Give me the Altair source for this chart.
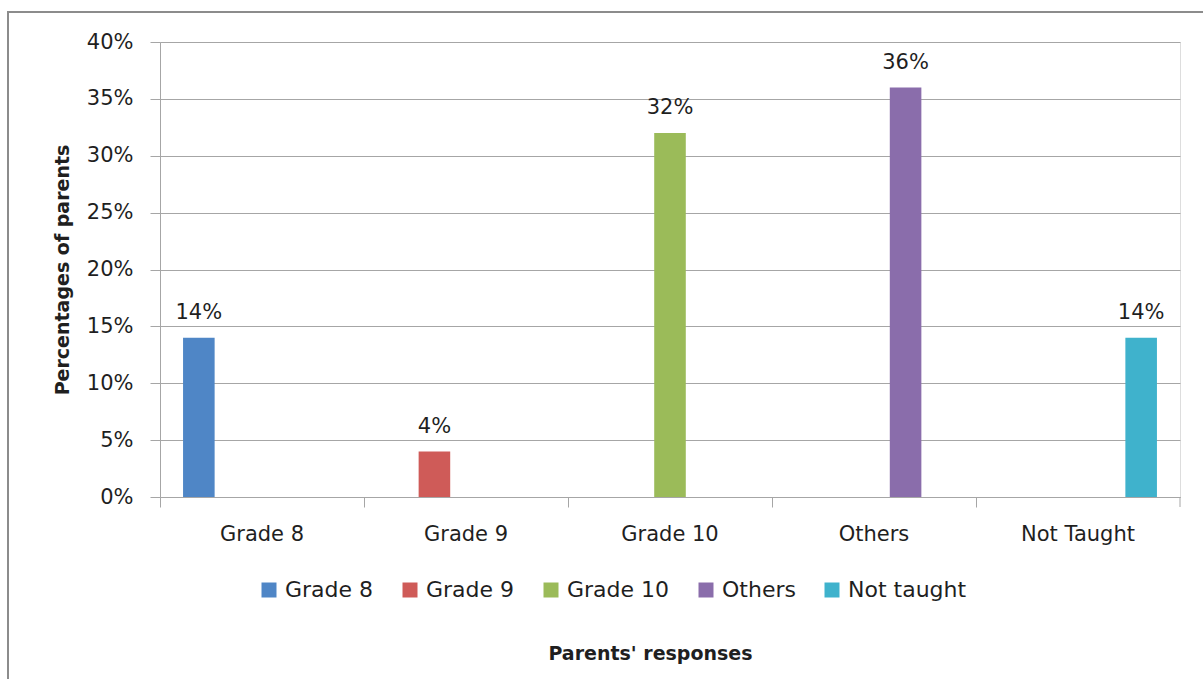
import altair as alt
import pandas as pd

categories = ["Grade 8", "Grade 9", "Grade 10", "Others", "Not Taught"]
series = ["Grade 8", "Grade 9", "Grade 10", "Others", "Not taught"]
values = [0.14, 0.04, 0.32, 0.36, 0.14]
labels = ["14%", "4%", "32%", "36%", "14%"]
colors = ["#4F86C6", "#CF5B58", "#9BBB59", "#8A6DAB", "#3FB2CC"]
y_ticks = [0, 0.05, 0.10, 0.15, 0.20, 0.25, 0.30, 0.35, 0.40]

df = pd.DataFrame({"category": categories, "series": series,
                   "value": values, "label": labels})

FONT = "DejaVu Sans"
TXT = "#1f1f1f"
GRID = "#A6A6A6"
W, H = 1020, 455

x_enc = alt.X("category:N", sort=categories,
              scale=alt.Scale(paddingInner=0, paddingOuter=0),
              axis=alt.Axis(title="Parents' responses", labelAngle=0,
                            labelFontSize=21, labelColor=TXT, labelFont=FONT,
                            labelPadding=16, bandPosition=0,
                            tickSize=10, tickColor=GRID, domainColor=GRID,
                            titleFont=FONT, titleFontSize=19, titleFontWeight="bold",
                            titleColor=TXT, titleX=490, titleY=162,
                            titleAlign="center", titleBaseline="alphabetic",
                            grid=False))
xoff_enc = alt.XOffset("series:N", sort=series,
                       scale=alt.Scale(paddingInner=0, paddingOuter=0.73))
y_enc = alt.Y("value:Q", scale=alt.Scale(domain=[0, 0.4], nice=False),
              axis=alt.Axis(title="Percentages of parents", format=".0%",
                            values=y_ticks, labelFontSize=21, labelColor=TXT,
                            labelFont=FONT, labelPadding=17, tickSize=10,
                            tickColor=GRID, domainColor=GRID, gridColor=GRID,
                            titleFont=FONT, titleFontSize=19, titleFontWeight="bold",
                            titleColor=TXT, titleX=-98, titleY=H / 2,
                            titleAngle=-90, titleAlign="center",
                            titleBaseline="middle"))

bars = alt.Chart(df).mark_bar().encode(
    x=x_enc, xOffset=xoff_enc, y=y_enc,
    color=alt.Color("series:N", sort=series,
                    scale=alt.Scale(domain=series, range=colors),
                    legend=alt.Legend(title=None, orient="none", direction="horizontal",
                                      legendX=98, legendY=537,
                                      symbolType="square", symbolSize=225,
                                      symbolStrokeWidth=0, labelFontSize=22,
                                      labelFont=FONT, labelColor=TXT,
                                      columnPadding=25, labelOffset=5,
                                      columns=5)))

text = alt.Chart(df).mark_text(fontSize=21, font=FONT, color=TXT, dy=-19,
                               baseline="alphabetic").encode(
    x=alt.X("category:N", sort=categories), xOffset=xoff_enc,
    y=alt.Y("value:Q"), text="label:N")

end_tick = alt.Chart(pd.DataFrame({"category": [categories[-1]]})).mark_rule(
    color=GRID, strokeWidth=1).encode(
    x=alt.X("category:N", sort=categories, bandPosition=1),
    y=alt.value(H), y2=alt.value(H + 10))

border = alt.Chart(pd.DataFrame({"k": [0]})).mark_rect(
    fill=None, stroke="#8C8C8C", strokeWidth=2, clip=False).encode(
    x=alt.value(-152), x2=alt.value(1200), y=alt.value(-30), y2=alt.value(800))

chart = alt.layer(border, bars, text, end_tick).properties(
    width=W, height=H,
    autosize=alt.AutoSizeParams(type="none"),
    padding={"left": 160, "top": 42, "right": 23, "bottom": 182},
).configure_view(stroke=None).configure(background="white")

chart.save("out.html", embed_options={"renderer": "svg", "actions": False})
